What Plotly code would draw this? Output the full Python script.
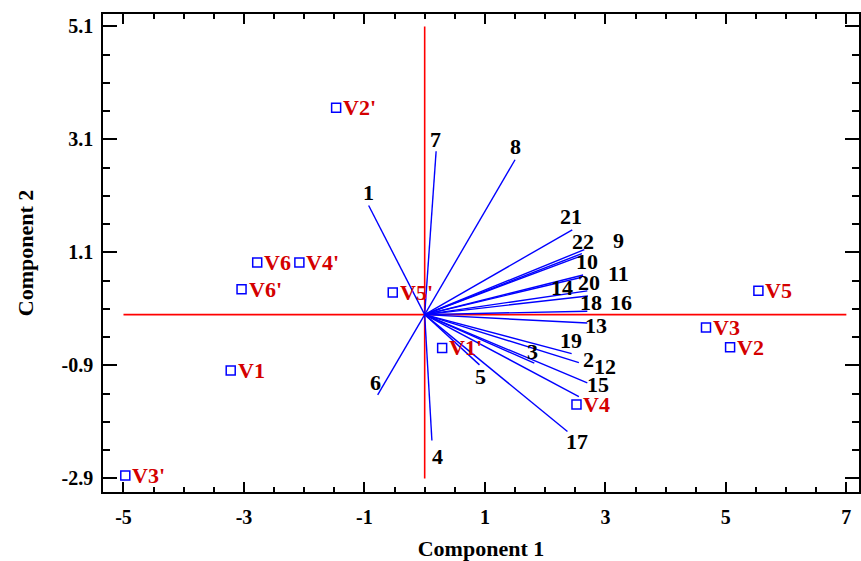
import plotly.graph_objects as go

# Variable loadings (end points of the biplot vectors)
var_names = ["1", "2", "3", "4", "5", "6", "7", "8", "9", "10", "11",
             "12", "13", "14", "15", "16", "17", "18", "19", "20", "21", "22"]
load_x = [-0.93, 2.56, 1.82, 0.12, 0.91, -0.78, 0.19, 1.50, 2.61, 2.60, 2.63,
          2.56, 2.70, 2.70, 2.70, 2.70, 2.37, 2.71, 2.44, 2.61, 2.45, 2.65]
load_y = [1.93, -0.85, -0.86, -2.23, -0.89, -1.42, 2.89, 2.74, 1.08, 1.04, 0.70,
          -1.45, -0.15, 0.42, -1.21, 0.06, -2.07, 0.33, -0.69, 0.66, 1.50, 1.15]

# Observation scores
obs_names = ["V1", "V2", "V3", "V4", "V5", "V6",
             "V1'", "V2'", "V3'", "V4'", "V5'", "V6'"]
obs_x = [-3.22, 5.07, 4.67, 2.52, 5.54, -2.78,
         0.29, -1.47, -4.97, -2.08, -0.53, -3.04]
obs_y = [-0.99, -0.58, -0.23, -1.59, 0.42, 0.92,
         -0.59, 3.66, -2.85, 0.92, 0.39, 0.45]

# Axis ticks
x_ticks = [-5, -3, -1, 1, 3, 5, 7]
y_ticks = [-2.9, -0.9, 1.1, 3.1, 5.1]

# Pixel offsets of the variable labels relative to the vector tips
label_shift = {
    "1": (0, 13), "2": (10, 3), "3": (-2, 12), "4": (6, -16), "5": (1, -12),
    "6": (-2, 12), "7": (-1, 12), "8": (0, 13), "9": (37, 13), "10": (6, -6),
    "11": (35, 2), "12": (26, 30), "13": (9, -2), "14": (-25, 3), "15": (11, -2),
    "16": (34, 9), "17": (10, -10), "18": (3, -7), "19": (-1, 13), "20": (7, -5),
    "21": (-1, 13), "22": (-1, 8),
}

FONT = "Liberation Serif"
x_range = [-5.34, 7.21]
y_range = [-3.14, 5.32]


def fmt(v, nd):
    # plain hyphen-minus for negative tick labels
    return f"{v:.{nd}f}"


fig = go.Figure()

# Reference cross through the origin
fig.add_trace(go.Scatter(x=[-5, 7], y=[0, 0], mode="lines",
                         line=dict(color="#ff0000", width=1.6),
                         hoverinfo="skip", showlegend=False))
fig.add_trace(go.Scatter(x=[0, 0], y=[-2.9, 5.1], mode="lines",
                         line=dict(color="#ff0000", width=1.6),
                         hoverinfo="skip", showlegend=False))

# Loading vectors
vx, vy = [], []
for x, y in zip(load_x, load_y):
    vx += [0, x, None]
    vy += [0, y, None]
fig.add_trace(go.Scatter(x=vx, y=vy, mode="lines",
                         line=dict(color="#0000ff", width=1.4),
                         hoverinfo="skip", showlegend=False))

# Observation markers
fig.add_trace(go.Scatter(x=obs_x, y=obs_y, mode="markers",
                         marker=dict(symbol="square-open", size=9,
                                     color="#0000ff", line=dict(width=1.5)),
                         showlegend=False))

annotations = []
for name, x, y in zip(var_names, load_x, load_y):
    dx, dy = label_shift[name]
    annotations.append(dict(x=x, y=y, text=f"<b>{name}</b>", showarrow=False,
                            xshift=dx, yshift=dy,
                            font=dict(family=FONT, size=22, color="black")))
for name, x, y in zip(obs_names, obs_x, obs_y):
    annotations.append(dict(x=x, y=y, text=f"<b>{name}</b>", showarrow=False,
                            xanchor="left", xshift=5,
                            font=dict(family=FONT, size=22, color="#d40000")))

axis_common = dict(showgrid=False, zeroline=False, showline=True,
                   linecolor="black", linewidth=1.5, mirror="allticks",
                   ticks="inside", tickcolor="black", tickwidth=1.5,
                   tickfont=dict(family=FONT, size=20, color="black", weight="bold"))

fig.update_layout(
    width=861, height=561,
    margin=dict(l=103, r=0, t=14, b=69),
    paper_bgcolor="white", plot_bgcolor="white",
    annotations=annotations,
    xaxis=dict(range=x_range, tickmode="array", tickvals=x_ticks,
               ticktext=[fmt(v, 0) for v in x_ticks], ticklen=10,
               ticklabelstandoff=6,
               minor=dict(tickmode="linear", tick0=-5, dtick=0.5, ticklen=5,
                          ticks="inside", tickcolor="black", tickwidth=1.5),
               title=dict(text="<b>Component 1</b>", standoff=16,
                          font=dict(family=FONT, size=22, color="black")),
               **axis_common),
    yaxis=dict(range=y_range, tickmode="array", tickvals=y_ticks,
               ticktext=[fmt(v, 1) for v in y_ticks], ticklen=14,
               ticklabelstandoff=4,
               minor=dict(tickmode="linear", tick0=-2.9, dtick=0.5, ticklen=7,
                          ticks="inside", tickcolor="black", tickwidth=1.5),
               title=dict(text="<b>Component 2</b>", standoff=22,
                          font=dict(family=FONT, size=22, color="black")),
               **axis_common),
)

fig.write_html("out.html")
